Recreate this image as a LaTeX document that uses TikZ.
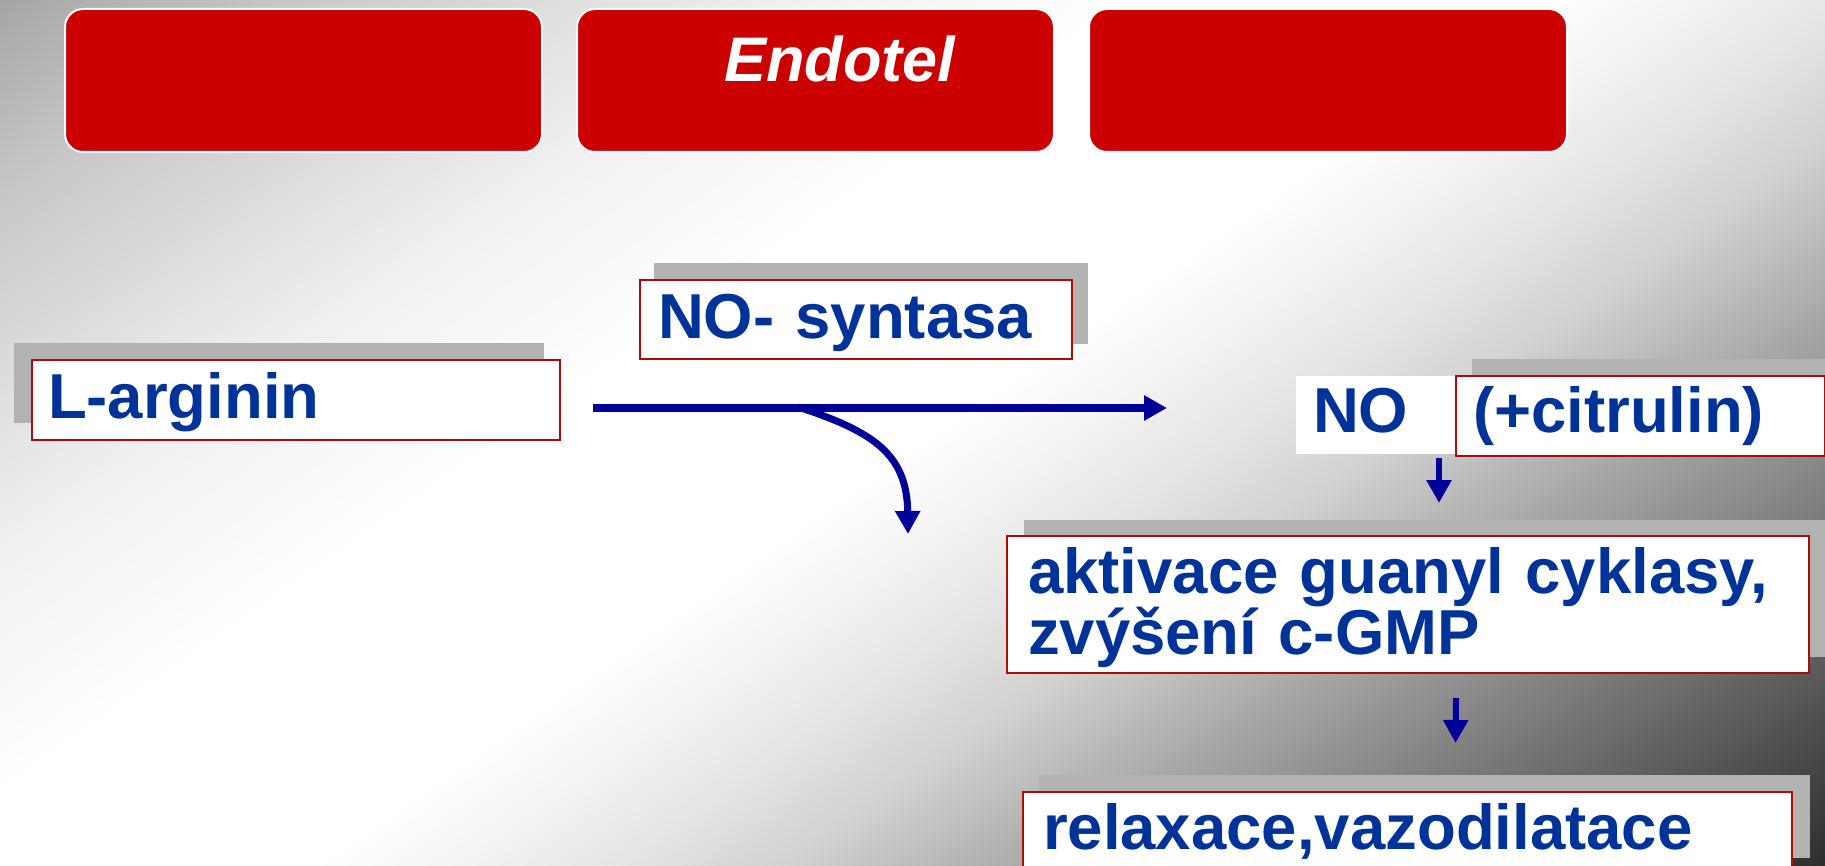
\documentclass[tikz,border=0pt]{standalone}
\usepackage{fontspec}
\setmainfont{Liberation Sans}
\usetikzlibrary{arrows.meta}
\definecolor{txtblue}{RGB}{0,51,153}
\definecolor{arrblue}{RGB}{0,0,153}
\definecolor{boxred}{RGB}{175,10,10}
\definecolor{topred}{RGB}{204,0,0}
\definecolor{shadowgray}{RGB}{178,178,178}
\definecolor{bgA}{RGB}{165,165,165}
\definecolor{bgB}{RGB}{200,200,200}
\definecolor{bgC}{RGB}{240,240,240}
\definecolor{bgD}{RGB}{232,232,232}
\definecolor{bgE}{RGB}{210,210,210}
\definecolor{bgF}{RGB}{168,168,168}
\definecolor{bgG}{RGB}{47,47,47}
\pgfdeclarehorizontalshading{bgshade}{100bp}{color(0bp)=(bgA); color(28bp)=(bgA); color(32.2bp)=(bgB); color(39.3bp)=(bgC); color(44.3bp)=(white); color(50.3bp)=(white); color(54.2bp)=(bgD); color(57bp)=(bgE); color(60.6bp)=(bgF); color(71.9bp)=(bgG); color(100bp)=(bgG)}
\pgfdeclarelayer{bglayer}
\pgfdeclarelayer{shadowlayer}
\pgfsetlayers{bglayer,shadowlayer,main}
\begin{document}
\begin{tikzpicture}[x=1pt,y=-1pt,
  wbox/.style={rectangle, draw=boxred, line width=2pt, fill=white, inner ysep=0pt, align=left,
    font=\fontsize{63.5pt}{58pt}\selectfont\bfseries, text=txtblue, anchor=north west},
  redbox/.style={rectangle, rounded corners=18pt, fill=topred, draw=white, line width=2pt,
    minimum width=477pt, minimum height=143pt, anchor=north west, inner sep=0pt},
  shadowbox/.style={fill=shadowgray},
  arr/.style={draw=arrblue, -{Triangle[length=23pt,width=24pt]}}
]
\useasboundingbox (0,0) rectangle (1825,866);

% background gradient
\begin{pgfonlayer}{bglayer}
\begin{scope}
\clip (0,0) rectangle (1825,866);
\shade[shading=bgshade, shading angle=-55] (-87.5,-567) rectangle (1912.5,1433);
\end{scope}
\end{pgfonlayer}

% top red boxes
\node[redbox] (r1) at (64,8) {};
\node[redbox, text width=445pt, inner xsep=16pt, inner ysep=0pt, text height=72pt, text depth=70pt, align=left,
  font=\fontsize{63pt}{70pt}\selectfont\bfseries\itshape, text=white] (r2) at (576,8) {\hspace*{131pt}Endotel};
\node[redbox, minimum width=478pt] (r3) at (1088,8) {};

% text boxes
\node[wbox, inner xsep=16pt, text width=496pt, text height=58pt, text depth=22pt] (larg) at (31,359) {L-arginin};
\node[wbox, inner xsep=18pt, text width=396pt, text height=58pt, text depth=21pt] (nos) at (639,279) {NO- syntasa};
\node[wbox, draw=none, inner xsep=17pt, text width=126pt, text height=56pt, text depth=22pt] (no) at (1295,375) {NO};
\node[wbox, inner xsep=17pt, text width=335pt, text height=56pt, text depth=24pt] (cit) at (1455,375) {(+citrulin)};
\node[wbox, inner xsep=21pt, text width=760pt, text height=57pt, text depth=80pt] (akt) at (1006,535) {aktivace guanyl cyklasy,\\zvýšení c-GMP};
\node[wbox, inner xsep=20pt, text width=729pt, text height=57pt, text depth=24pt] (rel) at (1022,791) {relaxace,vazodilatace};

% shadows
\begin{pgfonlayer}{shadowlayer}
\fill[shadowbox] ([shift={(-17,-16)}]larg.north west) rectangle ([shift={(-17,-18)}]larg.south east);
\fill[shadowbox] ([shift={(15,-16)}]nos.north west) rectangle ([shift={(15,-16)}]nos.south east);
\fill[shadowbox] ([shift={(17,-16)}]cit.north west) rectangle ([shift={(17,-16)}]cit.south east);
\fill[shadowbox] ([shift={(18,-15)}]akt.north west) rectangle ([shift={(18,-17)}]akt.south east);
\fill[shadowbox] ([shift={(17,-16)}]rel.north west) rectangle ([shift={(17,-16)}]rel.south east);
\end{pgfonlayer}

% connectors
\draw[arr, line width=8pt] ([shift={(32,8)}]larg.east) -- ([shift={(-128,-7)}]no.west);
\coordinate (br) at (798,407);
\coordinate (ce) at (908,534);
\draw[arr, line width=7pt] (br) .. controls (875,432) and (907,455) .. (ce);
\draw[arr, line width=6pt] ([shift={(63,3)}]no.south) -- ([shift={(31,-32)}]akt.north);
\draw[arr, line width=6pt] ([shift={(48,24)}]akt.south) -- ([shift={(48,-48)}]rel.north);
\end{tikzpicture}
\end{document}
